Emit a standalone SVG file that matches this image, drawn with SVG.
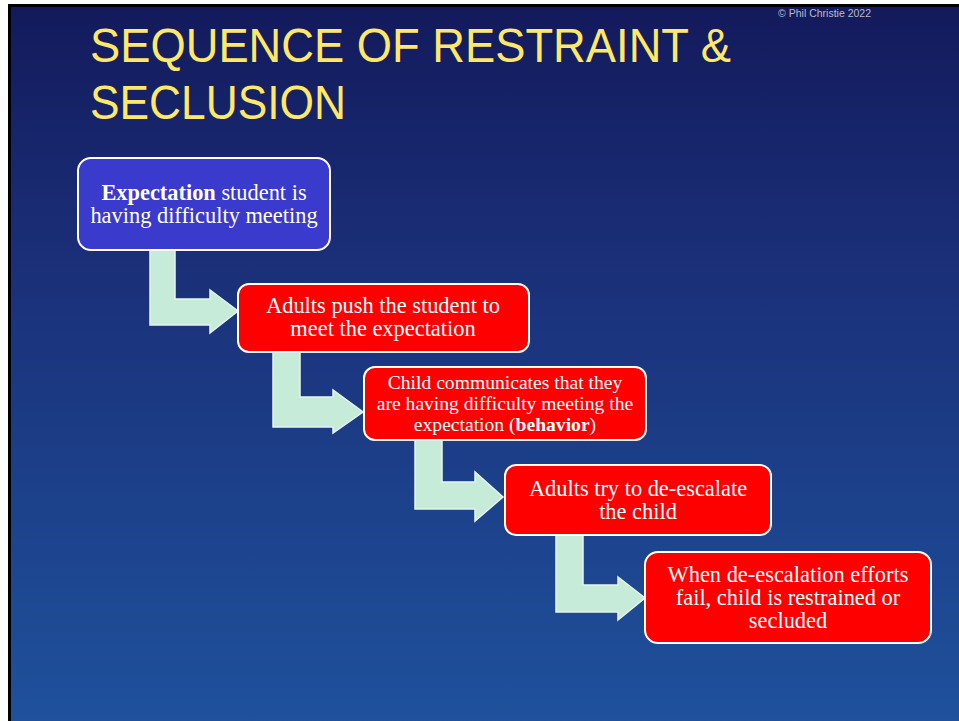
<svg xmlns="http://www.w3.org/2000/svg" width="959" height="721" viewBox="0 0 959 721">
<defs>
<linearGradient id="bg" x1="0" y1="0" x2="0" y2="1">
<stop offset="0" stop-color="#131a5c"/>
<stop offset="0.35" stop-color="#1a2f78"/>
<stop offset="1" stop-color="#1f519c"/>
</linearGradient>
<style>
.box{stroke:#ffffff;stroke-width:2}
.red{fill:#ff0000}
.blue{fill:#3a3acc}
.arrow{fill:#c6ebd9;stroke:#e6f5ee;stroke-width:1.5}
.t{font-family:"Liberation Serif","Times New Roman",serif;fill:#ffffff;text-anchor:middle}
.title{font-family:"Liberation Sans",Arial,sans-serif;fill:#ffe868;font-size:48px}
</style>
</defs>
<rect x="0" y="0" width="959" height="721" fill="#ffffff"/>
<rect x="8" y="4" width="951" height="717" fill="#000000"/>
<rect x="11" y="7" width="948" height="714" fill="url(#bg)"/>
<text x="871" y="17" font-family="Liberation Sans,Arial,sans-serif" font-size="10.5" fill="#b8bccc" text-anchor="end">© Phil Christie 2022</text>
<text class="title" x="90" y="62" textLength="641" lengthAdjust="spacingAndGlyphs">SEQUENCE OF RESTRAINT &amp;</text>
<text class="title" x="90" y="119" textLength="256" lengthAdjust="spacingAndGlyphs">SECLUSION</text>
<g id="connectors">
<path class="arrow" d="M150,250 L175,250 L175,299 L210,299 L210,290 L238,311 L210,333 L210,325 L150,325 Z"/>
<path class="arrow" d="M273,352 L300,352 L300,397 L333,397 L333,390 L363,412 L333,433 L333,427 L273,427 Z"/>
<path class="arrow" d="M415,440 L442,440 L442,482 L475,482 L475,472 L503,497 L475,521 L475,509 L415,509 Z"/>
<path class="arrow" d="M556,535 L583,535 L583,585 L618,585 L618,577 L645,598 L618,620 L618,612 L556,612 Z"/>
</g>
<g id="node1">
<rect class="box blue" x="78" y="158" width="252" height="92" rx="13"/>
<text class="t" font-size="22.4"><tspan x="204" y="200"><tspan font-weight="bold">Expectation</tspan> student is</tspan><tspan x="204" y="223">having difficulty meeting</tspan></text>
</g>
<g id="node2">
<rect class="box red" x="238" y="284" width="291" height="68" rx="11"/>
<text class="t" font-size="22.4"><tspan x="383" y="313">Adults push the student to</tspan><tspan x="383" y="336">meet the expectation</tspan></text>
</g>
<g id="node3">
<rect class="box red" x="364" y="367" width="282" height="73" rx="11"/>
<text class="t" font-size="19.6"><tspan x="505" y="389">Child communicates that they</tspan><tspan x="505" y="410">are having difficulty meeting the</tspan><tspan x="505" y="431">expectation (<tspan font-weight="bold">behavior</tspan>)</tspan></text>
</g>
<g id="node4">
<rect class="box red" x="505" y="465" width="266" height="70" rx="11"/>
<text class="t" font-size="22.4"><tspan x="638" y="496">Adults try to de-escalate</tspan><tspan x="638" y="519">the child</tspan></text>
</g>
<g id="node5">
<rect class="box red" x="645" y="552" width="286" height="91" rx="13"/>
<text class="t" font-size="22.4"><tspan x="788" y="582">When de-escalation efforts</tspan><tspan x="788" y="605">fail, child is restrained or</tspan><tspan x="788" y="628">secluded</tspan></text>
</g>
</svg>
